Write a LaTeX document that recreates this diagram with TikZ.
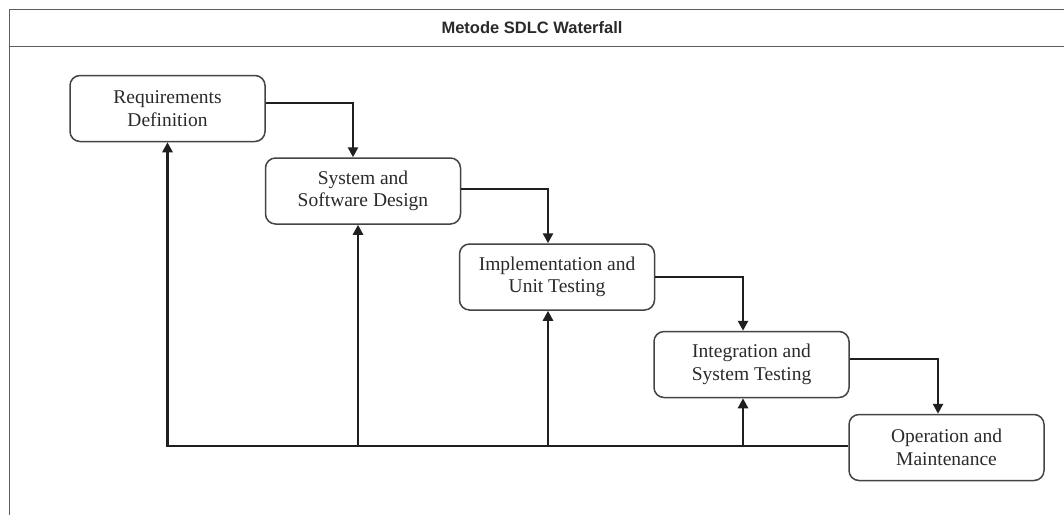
\documentclass[tikz,border=0pt]{standalone}
\usepackage{fontspec}
\setmainfont{Liberation Serif}
\newfontfamily\titlefont{Liberation Sans}
\usetikzlibrary{arrows.meta}
\definecolor{framegray}{HTML}{5E5E5E}
\definecolor{boxgray}{HTML}{444444}
\definecolor{txtgray}{HTML}{2A2A2A}
\begin{document}
\begin{tikzpicture}[x=1pt,y=-1pt,
  stage/.style={draw=boxgray, line width=1.5pt, rounded corners=10pt, fill=white,
    minimum width=195pt, minimum height=66pt, align=center, inner sep=0pt,
    text=txtgray, font=\fontsize{19.5}{22.5}\selectfont},
  flow/.style={draw=black!88, line width=2.8pt, line join=miter, -{Triangle[length=10pt,width=10pt]}},
  frameline/.style={draw=framegray, line width=1.8pt}]
\useasboundingbox (0,0) rectangle (1064,515);
\fill[white] (0,0) rectangle (1064,515);
% frame
\draw[frameline] (9.5,515) -- (9.5,9.5) -- (1064,9.5);
\draw[frameline] (9.5,46.5) -- (1064,46.5);
\node[font=\titlefont\bfseries\fontsize{16.5}{19}\selectfont, text=txtgray] (title) at (532,27.5) {Metode SDLC Waterfall};
% stages
\node[stage] (b1) at (167.5,108.5) {Requirements\\Definition};
\node[stage] (b2) at (363,191) {System and\\Software Design};
\node[stage] (b3) at (557,277) {Implementation and\\Unit Testing};
\node[stage] (b4) at (751.5,364.5) {Integration and\\System Testing};
\node[stage] (b5) at (946.5,447.5) {Operation and\\Maintenance};
% connection points
\coordinate (o1) at ([yshift=5.5pt]b1.east);
\coordinate (i2) at ([xshift=-10pt]b2.north);
\coordinate (o2) at ([yshift=2pt]b2.east);
\coordinate (i3) at ([xshift=-9pt]b3.north);
\coordinate (o3) at (b3.east);
\coordinate (i4) at ([xshift=-8.5pt]b4.north);
\coordinate (o4) at ([yshift=5.5pt]b4.east);
\coordinate (i5) at ([xshift=-8.5pt]b5.north);
\coordinate (u2) at ([xshift=-5pt]b2.south);
\coordinate (u3) at ([xshift=-9pt]b3.south);
\coordinate (u4) at ([xshift=-8.5pt]b4.south);
\coordinate (fb) at ([yshift=1.5pt]b5.west);
% forward flow
\draw[flow] (o1) -| (i2);
\draw[flow] (o2) -| (i3);
\draw[flow] (o3) -| (i4);
\draw[flow] (o4) -| (i5);
% feedback
\draw[flow] (fb) -- (b1.south |- fb) -- (b1.south);
\draw[flow] (u2 |- fb) -- (u2);
\draw[flow] (u3 |- fb) -- (u3);
\draw[flow] (u4 |- fb) -- (u4);
\end{tikzpicture}
\end{document}
